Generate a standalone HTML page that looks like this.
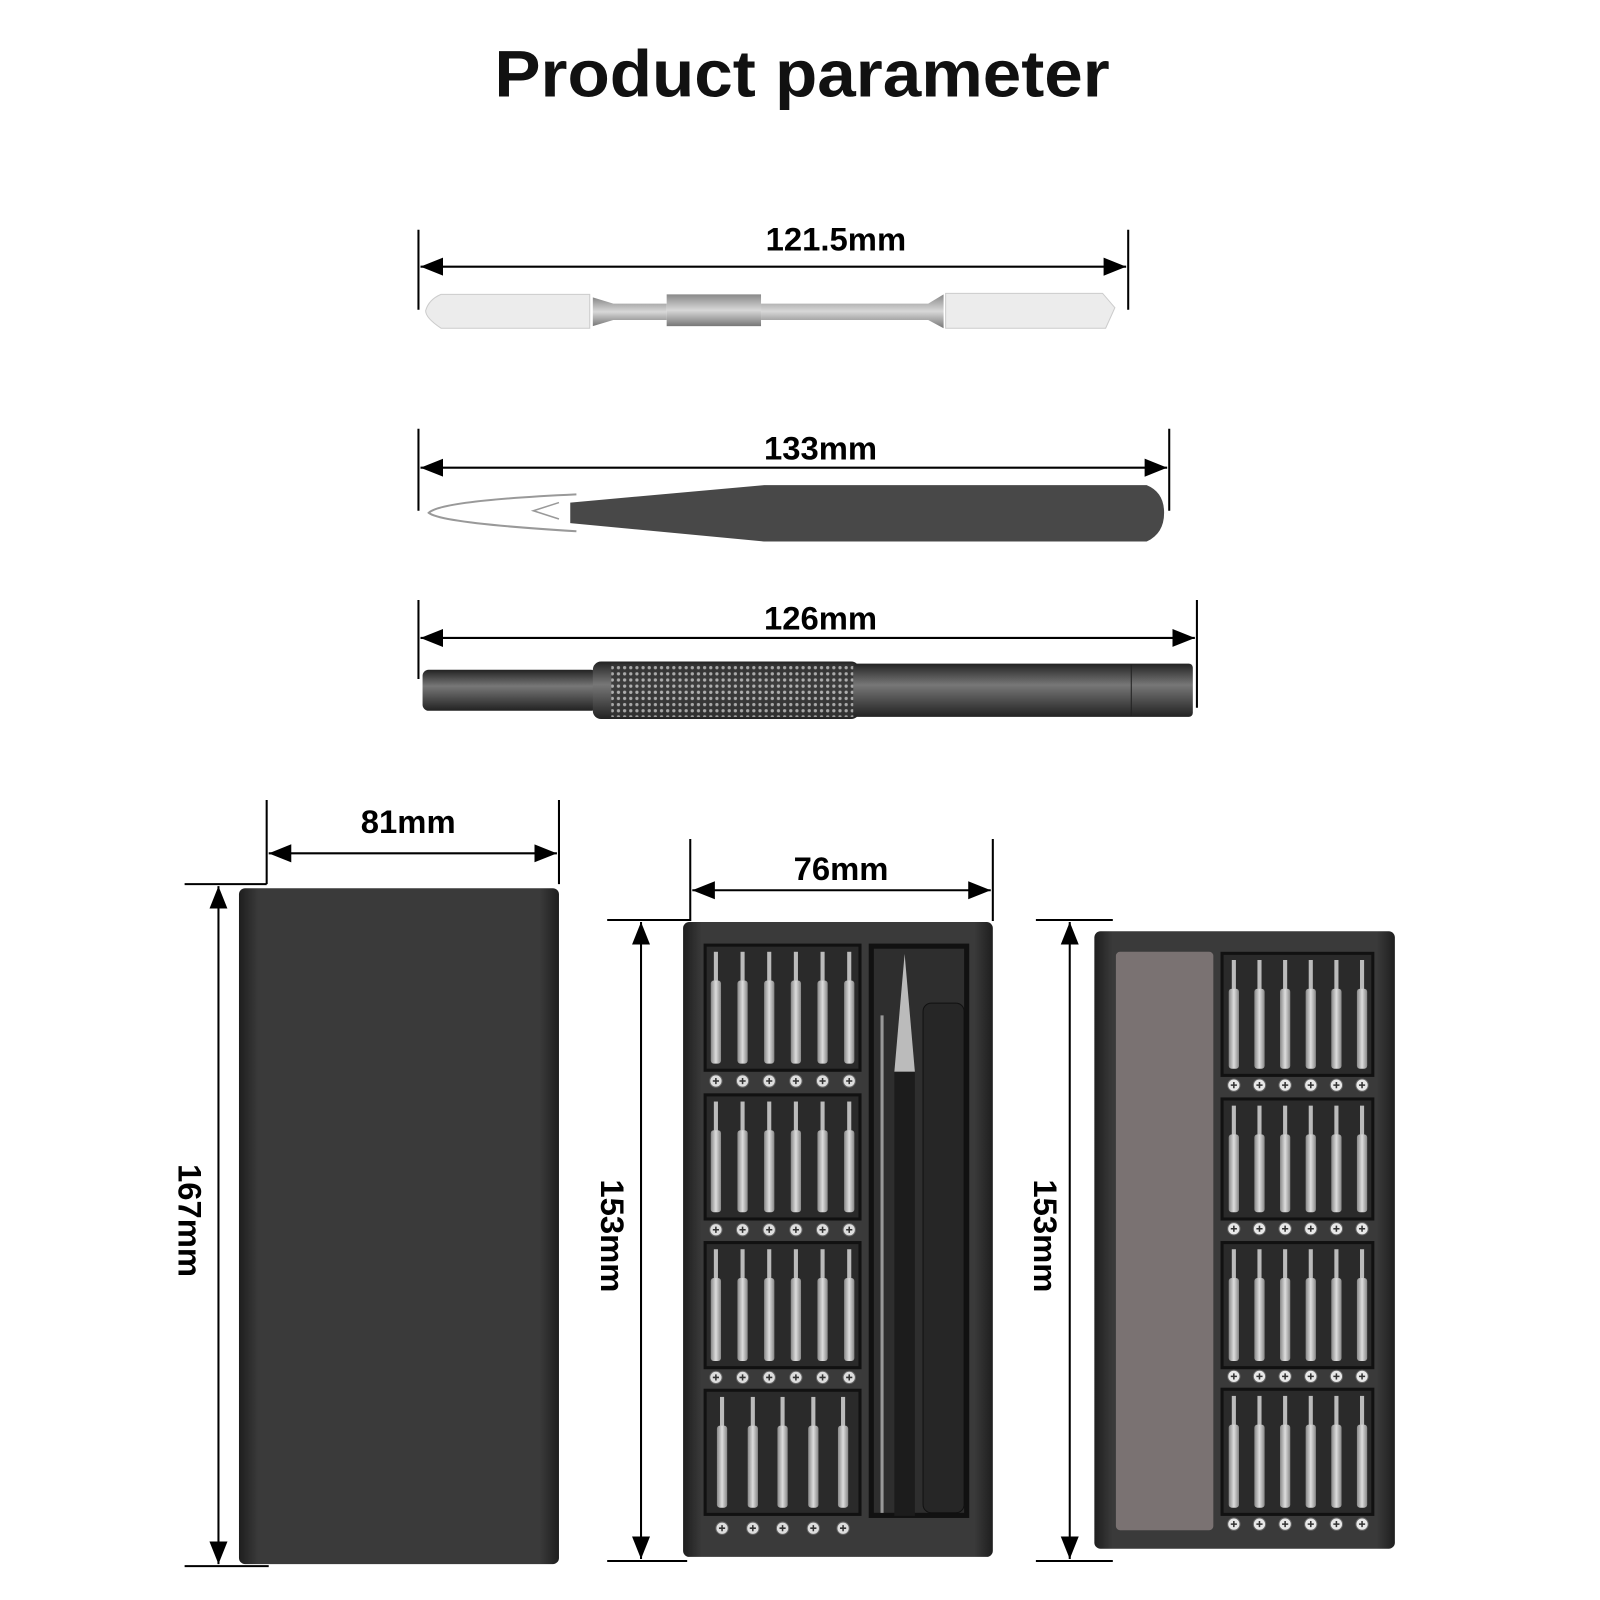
<!DOCTYPE html>
<html><head><meta charset="utf-8"><style>
html,body{margin:0;padding:0;background:#fff}
svg{display:block}
text{font-family:"Liberation Sans",sans-serif}
</style></head><body>
<svg id="s" width="1600" height="1600" viewBox="0 0 1560 1560" xmlns="http://www.w3.org/2000/svg">
<defs>
<marker id="b" viewBox="0 0 10 10" refX="10" refY="5" markerWidth="22" markerHeight="22" orient="auto-start-reverse" markerUnits="userSpaceOnUse">
<path d="M0,1 L10,5 L0,9 z" fill="#000"/></marker>
<linearGradient id="metal" x1="0" y1="0" x2="0" y2="1"><stop offset="0" stop-color="#888"/><stop offset=".5" stop-color="#d8d8d8"/><stop offset="1" stop-color="#777"/></linearGradient>
<linearGradient id="dark" x1="0" y1="0" x2="0" y2="1"><stop offset="0" stop-color="#222"/><stop offset=".4" stop-color="#777"/><stop offset="1" stop-color="#222"/></linearGradient>
<linearGradient id="case" x1="0" y1="0" x2="1" y2="0"><stop offset="0" stop-color="#1e1e1e"/><stop offset=".06" stop-color="#3a3a3a"/><stop offset=".94" stop-color="#3a3a3a"/><stop offset="1" stop-color="#1e1e1e"/></linearGradient>
<linearGradient id="bit" x1="0" y1="0" x2="1" y2="0"><stop offset="0" stop-color="#888"/><stop offset=".5" stop-color="#ddd"/><stop offset="1" stop-color="#888"/></linearGradient>
<pattern id="knurl" width="6" height="6" patternUnits="userSpaceOnUse"><rect width="6" height="6" fill="#333"/><circle cx="3" cy="3" r="1.6" fill="#bbb"/></pattern>
</defs>

<text x="782" y="94" font-size="64" font-weight="bold" text-anchor="middle" fill="#111" textLength="600" lengthAdjust="spacingAndGlyphs">Product parameter</text>

<!-- tool 1 -->
<g stroke="#000" stroke-width="2">
<line x1="408" y1="224" x2="408" y2="302"/><line x1="1100" y1="224" x2="1100" y2="302"/>
<line x1="410" y1="260" x2="1098" y2="260" marker-start="url(#b)" marker-end="url(#b)"/>
</g>
<text x="815" y="244" font-size="32" font-weight="bold" text-anchor="middle">121.5mm</text>
<path d="M430,287 L575,287 L575,320 L430,320 Q415,310 415,303 Q418,292 430,287z" fill="#ececec" stroke="#ccc"/>
<path d="M578,290 L598,296 L650,296 L650,312 L598,312 L578,318z" fill="url(#metal)"/>
<rect x="650" y="287" width="92" height="31" fill="url(#metal)"/>
<path d="M742,296 L905,296 L920,287 L920,320 L905,312 L742,312z" fill="url(#metal)"/>
<path d="M922,286 L1075,286 L1087,300 L1078,320 L922,320z" fill="#ececec" stroke="#ccc"/>

<!-- tool 2 -->
<g stroke="#000" stroke-width="2">
<line x1="408" y1="418" x2="408" y2="498"/><line x1="1140" y1="418" x2="1140" y2="498"/>
<line x1="410" y1="456" x2="1138" y2="456" marker-start="url(#b)" marker-end="url(#b)"/>
</g>
<text x="800" y="448" font-size="32" font-weight="bold" text-anchor="middle">133mm</text>
<path d="M562,482 Q430,488 418,500 Q430,510 562,518" fill="none" stroke="#999" stroke-width="2"/>
<path d="M545,490 L520,498 L545,506" fill="none" stroke="#999" stroke-width="1.5"/>
<path d="M556,490 L745,473 L1118,473 Q1135,480 1135,500 Q1135,520 1118,528 L745,528 L556,510z" fill="#484848"/>

<!-- tool 3 -->
<g stroke="#000" stroke-width="2">
<line x1="408" y1="585" x2="408" y2="662"/><line x1="1167" y1="585" x2="1167" y2="690"/>
<line x1="410" y1="622" x2="1165" y2="622" marker-start="url(#b)" marker-end="url(#b)"/>
</g>
<text x="800" y="614" font-size="32" font-weight="bold" text-anchor="middle">126mm</text>
<rect x="412" y="653" width="170" height="40" rx="6" fill="url(#dark)"/>
<rect x="578" y="645" width="260" height="56" rx="8" fill="url(#dark)"/>
<rect x="596" y="647" width="236" height="52" fill="url(#knurl)" opacity=".85"/>
<rect x="832" y="647" width="331" height="52" rx="4" fill="url(#dark)"/>
<line x1="1103" y1="648" x2="1103" y2="698" stroke="#222"/>

<!-- case 1 -->
<g stroke="#000" stroke-width="2">
<line x1="260" y1="780" x2="260" y2="862"/><line x1="545" y1="780" x2="545" y2="862"/>
<line x1="262" y1="832" x2="543" y2="832" marker-start="url(#b)" marker-end="url(#b)"/>
<line x1="180" y1="862" x2="260" y2="862"/><line x1="180" y1="1527" x2="262" y2="1527"/>
<line x1="213" y1="864" x2="213" y2="1525" marker-start="url(#b)" marker-end="url(#b)"/>
</g>
<text x="398" y="812" font-size="32" font-weight="bold" text-anchor="middle">81mm</text>
<text transform="translate(174,1190) rotate(90)" font-size="32" font-weight="bold" text-anchor="middle">167mm</text>
<rect x="233" y="866" width="312" height="659" rx="6" fill="url(#case)"/>

<!-- case 2 -->
<g stroke="#000" stroke-width="2">
<line x1="673" y1="818" x2="673" y2="898"/><line x1="968" y1="818" x2="968" y2="898"/>
<line x1="675" y1="868" x2="966" y2="868" marker-start="url(#b)" marker-end="url(#b)"/>
<line x1="592" y1="897" x2="673" y2="897"/><line x1="592" y1="1522" x2="670" y2="1522"/>
<line x1="625" y1="899" x2="625" y2="1520" marker-start="url(#b)" marker-end="url(#b)"/>
</g>
<text x="820" y="858" font-size="32" font-weight="bold" text-anchor="middle">76mm</text>
<text transform="translate(586,1205) rotate(90)" font-size="32" font-weight="bold" text-anchor="middle">153mm</text>
<rect x="666" y="899" width="302" height="619" rx="6" fill="url(#case)"/>
<rect x="847" y="920" width="98" height="560" fill="#111"/>
<rect x="852" y="925" width="88" height="550" fill="#2e2e2e"/>
<rect x="900" y="978" width="40" height="497" rx="8" fill="#262626" stroke="#111"/>
<path d="M882,930 L872,1045 L892,1045z" fill="#bbb"/>
<rect x="872" y="1045" width="20" height="433" fill="#1c1c1c"/>
<line x1="860" y1="990" x2="860" y2="1475" stroke="#999" stroke-width="3"/>
<g id="c2"></g>

<!-- case 3 -->
<g stroke="#000" stroke-width="2">
<line x1="1010" y1="897" x2="1085" y2="897"/><line x1="1010" y1="1522" x2="1085" y2="1522"/>
<line x1="1043" y1="899" x2="1043" y2="1520" marker-start="url(#b)" marker-end="url(#b)"/>
</g>
<text x="1008" y="1205" transform="rotate(90 1008 1205)" font-size="32" font-weight="bold" text-anchor="middle">153mm</text>
<rect x="1067" y="908" width="293" height="602" rx="6" fill="url(#case)"/>
<rect x="1088" y="928" width="95" height="564" rx="4" fill="#7a7272"/>
<g id="c3"></g>
</svg>
<script>
var ns="http://www.w3.org/2000/svg";
function el(p,t,a){var e=document.createElementNS(ns,t);for(var k in a)e.setAttribute(k,a[k]);p.appendChild(e);return e;}
function grid(id,rows,boxL,boxR,circFill){
 var g=document.getElementById(id);
 rows.forEach(function(r){
  var xs=r[3];
  el(g,"rect",{x:boxL,y:r[0],width:boxR-boxL,height:r[1]-r[0],fill:"#111"});
  el(g,"rect",{x:boxL+3,y:r[0]+3,width:boxR-boxL-6,height:r[1]-r[0]-6,fill:"#2a2a2a"});
  xs.forEach(function(x){
   el(g,"rect",{x:x-2,y:r[0]+8,width:4,height:30,fill:"#bbb"});
   el(g,"rect",{x:x-5,y:r[0]+36,width:10,height:r[1]-r[0]-44,rx:3,fill:"url(#bit)"});
   if(r[2]){el(g,"circle",{cx:x,cy:r[2],r:6,fill:circFill,stroke:"#666"});
    el(g,"path",{d:"M"+(x-3)+","+r[2]+"h6M"+x+","+(r[2]-3)+"v6",stroke:"#333","stroke-width":1.5});}
  });
 });
}
var s6=[698,724,750,776,802,828],s5=[704,734,763,793,822];
grid("c2",[[920,1045,1054,s6],[1066,1190,1199,s6],[1210,1335,1343,s6],[1354,1478,1490,s5]],686,840,"#ddd");
var t6=[1203,1228,1253,1278,1303,1328];
grid("c3",[[928,1050,1058,t6],[1070,1190,1198,t6],[1210,1335,1342,t6],[1353,1478,1486,t6]],1190,1340,"#e8e8e8");
</script>
</body></html>
